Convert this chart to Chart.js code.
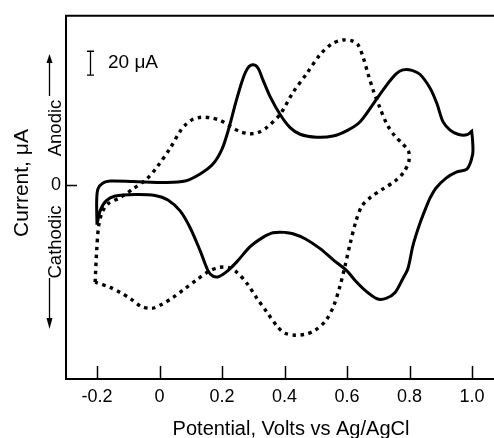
<!DOCTYPE html>
<html><head><meta charset="utf-8">
<script src="https://cdn.jsdelivr.net/npm/chart.js@4"></script>
<style>html,body{margin:0;padding:0;background:#fff;overflow:hidden}#wrap{width:494px;height:438px}</style>
</head><body><div id="wrap"><canvas id="c" width="494" height="438"></canvas></div>
<script>
// ---- data (Potential in V vs Ag/AgCl, Current in µA) ----
const xTicks = [-0.2, 0, 0.2, 0.4, 0.6, 0.8, 1.0];
const yTicks = [0];

const solidV = [
  -0.200,-0.201,-0.197,-0.181,-0.158,-0.085,0.023,0.082,0.130,0.171,
  0.200,0.222,0.245,0.267,0.283,0.299,0.315,0.331,0.354,0.386,
  0.418,0.450,0.503,0.555,0.603,0.642,0.683,0.725,0.757,0.779,
  0.808,0.834,0.866,0.888,0.907,0.930,0.955,0.983,0.999,0.999,
  1.002,1.002,0.984,0.950,0.917,0.885,0.866,0.855,0.834,0.811,
  0.795,0.779,0.754,0.725,0.696,0.658,0.626,0.599,0.555,0.514,
  0.466,0.427,0.402,0.363,0.331,0.290,0.248,0.219,0.190,0.171,
  0.155,0.130,0.098,0.066,0.027,-0.014,-0.078,-0.142,-0.171,-0.190,-0.200
];
const solidI = [
  -33.3,-13.3,-3.3,1.7,3.3,2.9,2.1,3.3,9.2,17.5,
  30,47.5,70,89,98,100.6,98,88,74,59,
  48,42.5,40,41,46,53,67.5,83,93,96.4,
  96,92.5,81,68,53,46,42.5,42,45,45,
  36.7,25.6,13.3,10.8,5.8,-2.5,-10.8,-17.5,-31.7,-50.8,
  -70,-78.3,-90,-95,-95.3,-88.3,-80,-71.7,-62.5,-53.3,
  -45,-40.8,-39.7,-40,-43.9,-51.7,-64.2,-71.7,-76.7,-76.3,
  -71.7,-55,-35.8,-21.7,-12.5,-8.75,-7.9,-9.2,-13.3,-21.7,-33.3
];

const dottedV = [
  -0.206,-0.201,-0.195,-0.184,-0.165,-0.126,-0.085,-0.041,-0.008,0.034,
  0.066,0.085,0.107,0.133,0.162,0.194,0.226,0.258,0.290,0.315,
  0.344,0.386,0.427,0.471,0.514,0.552,0.587,0.616,0.635,0.651,
  0.667,0.683,0.706,0.728,0.754,0.779,0.797,0.798,0.782,0.754,
  0.715,0.677,0.648,0.629,0.610,0.594,0.578,0.558,0.533,0.498,
  0.466,0.434,0.402,0.379,0.344,0.312,0.280,0.248,0.222,0.194,
  0.162,0.120,0.078,0.043,0.008,-0.024,-0.059,-0.094,-0.126,-0.158,-0.206
];
const dottedI = [
  -81.4,-55,-35,-23.3,-15.8,-10.6,-3.3,5,15,30.8,
  45,50.8,55,56.7,56.3,54.2,49.2,44.6,42.9,43.8,
  48.3,59.2,77.5,93.3,109.2,118.3,121.4,120.8,117.5,107.5,
  93.3,80,64.2,50.8,40.8,34.2,28.3,20,10.8,3.3,
  -3.3,-10,-17.5,-30,-49.2,-67.5,-84.2,-100.8,-113.3,-121.7,
  -125,-125.8,-124.2,-119.2,-106.7,-95,-82.5,-73.3,-69.2,-68.9,
  -71.7,-79.2,-87.5,-94.2,-100,-103.3,-101.7,-95,-90,-85.8,-81.4
];

const scaleBarValue = 20;           // µA
const xTitle = 'Potential, Volts vs Ag/AgCl';
const yTitle = 'Current, μA';
const anodicLabel = 'Anodic';
const cathodicLabel = 'Cathodic';

// ---- build ----
const toPts = (xs, ys) => xs.map((x, i) => ({x: x, y: ys[i]}));
const INK = '#000';
const FONT = '"Liberation Sans", Arial, Helvetica, sans-serif';

const decor = {
  id: 'decor',
  afterDraw(chart) {
    const ctx = chart.ctx, a = chart.chartArea;
    const xs = chart.scales.x, ys = chart.scales.y;
    ctx.save();
    ctx.strokeStyle = INK; ctx.fillStyle = INK;
    // top frame line
    ctx.lineWidth = 2;
    ctx.beginPath(); ctx.moveTo(a.left - 1, a.top); ctx.lineTo(a.right, a.top); ctx.stroke();
    // inward ticks on x axis
    ctx.lineWidth = 1.5;
    xs.ticks.forEach(t => {
      const px = Math.round(xs.getPixelForValue(t.value)) + 0.5;
      ctx.beginPath(); ctx.moveTo(px, a.bottom); ctx.lineTo(px, a.bottom - 13); ctx.stroke();
    });
    // inward tick on y axis
    ys.ticks.forEach(t => {
      const py = Math.round(ys.getPixelForValue(t.value)) + 0.5;
      ctx.beginPath(); ctx.moveTo(a.left, py); ctx.lineTo(a.left + 11, py); ctx.stroke();
    });
    // 20 µA scale bar
    const bx = 90.5;
    const yb = ys.getPixelForValue(92), yt = ys.getPixelForValue(92 + scaleBarValue);
    ctx.lineWidth = 1.3;
    ctx.beginPath();
    ctx.moveTo(bx, yb); ctx.lineTo(bx, yt);
    ctx.moveTo(bx - 3.5, yb); ctx.lineTo(bx + 3.5, yb);
    ctx.moveTo(bx - 3.5, yt); ctx.lineTo(bx + 3.5, yt);
    ctx.stroke();
    ctx.font = '19px ' + FONT;
    ctx.textAlign = 'left'; ctx.textBaseline = 'middle';
    ctx.fillText(scaleBarValue + ' μA', 108, (yb + yt) / 2);
    // x title
    ctx.font = '20px ' + FONT;
    ctx.textAlign = 'center'; ctx.textBaseline = 'alphabetic';
    ctx.fillText(xTitle, 291, 435);
    // rotated y labels
    const rot = (txt, x, y, size) => {
      ctx.save(); ctx.translate(x, y); ctx.rotate(-Math.PI / 2);
      ctx.font = size + 'px ' + FONT; ctx.textAlign = 'center'; ctx.textBaseline = 'alphabetic';
      ctx.fillText(txt, 0, 0); ctx.restore();
    };
    rot(yTitle, 28, 183, 21);
    rot(anodicLabel, 60.5, 128, 18.5);
    rot(cathodicLabel, 60.5, 242, 18.5);
    // arrows
    ctx.lineWidth = 1.3;
    ctx.beginPath(); ctx.moveTo(49.5, 96); ctx.lineTo(49.5, 61); ctx.stroke();
    ctx.beginPath(); ctx.moveTo(49.5, 54); ctx.lineTo(46.5, 63); ctx.lineTo(52.5, 63); ctx.closePath(); ctx.fill();
    ctx.beginPath(); ctx.moveTo(49.5, 278); ctx.lineTo(49.5, 320); ctx.stroke();
    ctx.beginPath(); ctx.moveTo(49.5, 329); ctx.lineTo(46.5, 318); ctx.lineTo(52.5, 318); ctx.closePath(); ctx.fill();
    ctx.restore();
  }
};

new Chart(document.getElementById('c'), {
  type: 'scatter',
  data: {
    datasets: [
      { data: toPts(solidV, solidI), showLine: true, borderColor: INK, borderWidth: 3,
        pointRadius: 0, tension: 0.3, fill: false },
      { data: toPts(dottedV, dottedI), showLine: true, borderColor: INK, borderWidth: 3.4,
        borderDash: [3.5, 4.5], pointRadius: 0, tension: 0.3, fill: false }
    ]
  },
  options: {
    responsive: false, animation: false, devicePixelRatio: 1,
    layout: { padding: { top: 14, left: 0, right: 0, bottom: 0 } },
    plugins: { legend: { display: false }, tooltip: { enabled: false } },
    scales: {
      x: {
        type: 'linear', min: -0.2992, max: 1.0704,
        afterBuildTicks: s => { s.ticks = xTicks.map(v => ({value: v})); },
        afterFit: s => { s.height = 59; },
        ticks: { callback: v => (v === 0 ? '0' : v.toFixed(1)), color: INK,
                 font: { family: FONT, size: 18 }, padding: 7, maxRotation: 0, autoSkip: false },
        grid: { drawOnChartArea: false, drawTicks: false },
        border: { display: true, color: INK, width: 2 }
      },
      y: {
        type: 'linear', min: -162.5, max: 141.7,
        afterBuildTicks: s => { s.ticks = yTicks.map(v => ({value: v})); },
        afterFit: s => { s.width = 66; },
        ticks: { callback: v => String(v), color: INK,
                 font: { family: FONT, size: 18 }, padding: 5 },
        grid: { drawOnChartArea: false, drawTicks: false },
        border: { display: true, color: INK, width: 2 }
      }
    }
  },
  plugins: [decor]
});
</script></body></html>
